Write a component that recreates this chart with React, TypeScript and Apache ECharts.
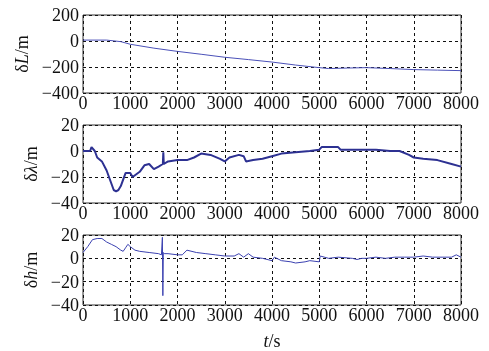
import React, { useEffect, useRef } from "react";
import * as echarts from "echarts";

const xTicks = [0, 1000, 2000, 3000, 4000, 5000, 6000, 7000, 8000];

const dLt = [0, 500, 800, 1000, 1500, 2000, 2500, 3000, 3500, 4000, 4500, 5000, 5200, 5600, 6000, 6500, 7000, 7500, 8000];
const dLv = [7, 7, -5, -25, -55, -80, -102, -125, -143, -162, -185, -205, -212, -208, -205, -212, -220, -224, -228];

const dlamT = [0, 150, 180, 250, 300, 400, 500, 600, 650, 700, 750, 800, 900, 1000, 1050, 1200, 1300, 1400, 1500, 1600, 1690, 1700, 1710, 1800, 2000, 2200, 2350, 2500, 2700, 2900, 3000, 3100, 3300, 3400, 3450, 3600, 3800, 4000, 4200, 4500, 4800, 5000, 5050, 5100, 5400, 5450, 5800, 6000, 6200, 6500, 6700, 6900, 7000, 7200, 7500, 7800, 8000];
const dlamV = [0, 0, 3, 0, -5, -8, -15, -25, -30, -31, -30, -27, -17, -17, -20, -16, -11, -10, -14, -12, -10, -1, -10, -8, -7, -7, -5, -2, -3, -6, -8, -5, -3, -4, -8, -7, -6, -4, -2, -1, 0, 1, 3, 3, 3, 1, 1, 1, 1, 0, 0, -3, -5, -6, -7, -10, -12];

const dhT = [0, 100, 200, 300, 400, 500, 600, 700, 800, 850, 900, 950, 1000, 1100, 1200, 1400, 1600, 1660, 1680, 1690, 1700, 1720, 1800, 2000, 2100, 2200, 2400, 2600, 2800, 3000, 3200, 3300, 3400, 3500, 3600, 3800, 4000, 4050, 4200, 4400, 4500, 4700, 4800, 5000, 5020, 5200, 5400, 5700, 5800, 5900, 6000, 6200, 6400, 6600, 6800, 7000, 7200, 7400, 7600, 7800, 7900, 8000];
const dhV = [5, 10, 16, 17, 17, 14, 12, 10, 7, 6, 9, 12, 10, 7, 6, 5, 4, 3, 18, -32, 5, 4, 4, 3, 3, 7, 5, 4, 3, 2, 2, 4, 1, 4, 1, 0, -2, 1, -2, -3, -4, -3, -2, -3, 2, 0, 1, 0, -1, 0, 0, 1, 0, 1, 1, 1, 2, 1, 1, 1, 3, 1];

const yNames = ["δ|L", "δ|λ", "δ|h"];

const FONT = "serif";

function App() {
  const ref = useRef<HTMLDivElement>(null);
  useEffect(() => {
    const chart = echarts.init(ref.current!, undefined, { renderer: "svg" });
    const tops = [15, 125, 235];
    const ranges = [
      [-400, 200, 200],
      [-40, 20, 20],
      [-40, 20, 20],
    ];
    const mkRich = () => ({
      a: { fontFamily: FONT, fontSize: 18, color: "#111" },
      i: { fontFamily: FONT, fontSize: 18, fontStyle: "italic", color: "#111" },
    });
    const grid = tops.map((t) => ({
      left: 83,
      top: t,
      width: 378,
      height: 78,
      show: true,
      borderColor: "#333",
      borderWidth: 1,
    }));
    const xAxis = tops.map((_, i) => ({
      type: "value",
      gridIndex: i,
      min: 0,
      max: 8000,
      interval: 1000,
      axisLine: { show: false },
      axisTick: { show: false },
      axisLabel: {
        fontFamily: FONT,
        fontSize: 18,
        color: "#111",
        margin: 1,
        formatter: (v: number) => (xTicks.includes(v) ? String(v) : ""),
      },
      splitLine: { show: true, lineStyle: { color: "#111", type: [3, 3], width: 1 } },
      name: i === 2 ? "{i|t}{a|/s}" : "",
      nameLocation: "middle",
      nameGap: 27,
      nameTextStyle: { fontFamily: FONT, rich: mkRich() },
    }));
    const yAxis = tops.map((_, i) => {
      const [d, v] = yNames[i].split("|");
      return {
        type: "value",
        gridIndex: i,
        min: ranges[i][0],
        max: ranges[i][1],
        interval: ranges[i][2],
        axisLine: { show: false },
        axisTick: { show: false },
        axisLabel: {
          fontFamily: FONT,
          fontSize: 18,
          color: "#111",
          margin: 4,
          formatter: (val: number) => String(val).replace("-", "\u2212"),
        },
        splitLine: { show: true, lineStyle: { color: "#111", type: [3, 3], width: 1 } },
        name: "{a|" + d + "}{i|" + v + "}{a|/m}",
        nameLocation: "middle",
        nameRotate: 90,
        nameGap: 42,
        nameTextStyle: { fontFamily: FONT, rich: mkRich() },
      };
    });
    const mk = (xs: number[], ys: number[], i: number, color: string, w: number) => ({
      type: "line",
      xAxisIndex: i,
      yAxisIndex: i,
      data: xs.map((x, k) => [x, ys[k]]),
      showSymbol: false,
      symbol: "none",
      lineStyle: { color, width: w },
      z: 3,
    });
    chart.setOption({
      animation: false,
      textStyle: { fontFamily: FONT },
      grid,
      xAxis,
      yAxis,
      series: [
        mk(dLt, dLv, 0, "#4a50b8", 1),
        mk(dlamT, dlamV, 1, "#2d3192", 2),
        mk(dhT, dhV, 2, "#3a40b0", 1),
      ],
    });
    return () => chart.dispose();
  }, []);
  return (
    <>
      <style>{"#root svg text, #root svg tspan { font-family: 'Liberation Serif', 'Times New Roman', serif !important; }"}</style>
      <div ref={ref} style={{ position: "fixed", left: 0, top: 0, width: 489, height: 351 }} />
    </>
  );
}

export default App;
